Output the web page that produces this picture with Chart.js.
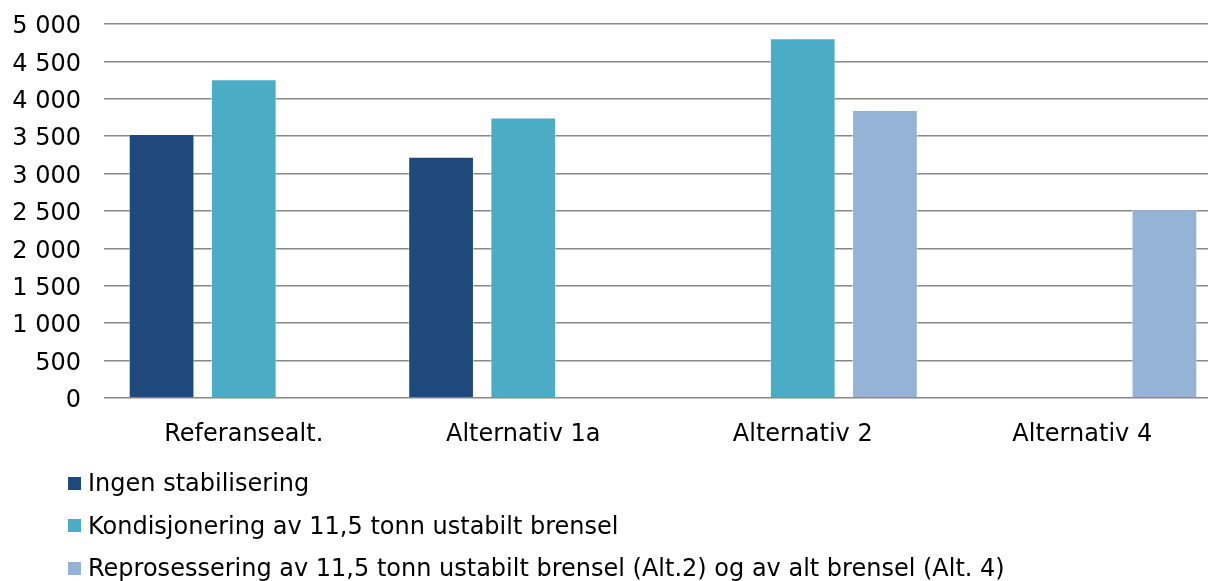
<!DOCTYPE html>
<html>
<head>
<meta charset="utf-8">
<script src="https://cdn.jsdelivr.net/npm/chart.js@4/dist/chart.umd.min.js"></script>
<style>
  body { margin: 0; background: #fff; overflow: hidden; width: 1208px; height: 581px; }
  #wrap { position: absolute; left: 0; top: 0; width: 1222px; height: 581px; }
  #legend { position: absolute; left: 68px; top: 462px; font-family: "DejaVu Sans", Verdana, sans-serif; font-size: 24px; color: #000; }
  #legend .item { display: flex; align-items: center; height: 42.5px; white-space: nowrap; }
  #legend .box { width: 13px; height: 13px; margin-right: 7px; }
</style>
</head>
<body>
<div id="wrap"><canvas id="c"></canvas></div>
<div id="legend"></div>
<script>
const categories = ["Referansealt.", "Alternativ 1a", "Alternativ 2", "Alternativ 4"];
const ingenStab = [3530, 3225, null, null];
const kondisjonering = [4260, 3750, 4810, null];
const reprosessering = [null, null, 3850, 2525];
const seriesNames = [
  "Ingen stabilisering",
  "Kondisjonering av 11,5 tonn ustabilt brensel",
  "Reprosessering av 11,5 tonn ustabilt brensel (Alt.2) og av alt brensel (Alt. 4)",
];
const colors = ["#1f497d", "#4bacc6", "#95b3d7"];

function spaced(v) {
  return String(v).replace(/\B(?=(\d{3})+(?!\d))/g, " ");
}

const font = { family: "'DejaVu Sans', Verdana, sans-serif", size: 24 };

const chart = new Chart(document.getElementById("c"), {
  type: "bar",
  data: {
    labels: categories,
    datasets: [ingenStab, kondisjonering, reprosessering].map((d, i) => ({
      label: seriesNames[i],
      data: d,
      backgroundColor: colors[i],
      borderColor: "rgba(255,255,255,0.5)",
      borderWidth: 1,
      categoryPercentage: 0.882,
      barPercentage: 0.8,
    })),
  },
  options: {
    responsive: true,
    maintainAspectRatio: false,
    animation: false,
    layout: { padding: { top: 24, left: 0, right: 0, bottom: 0 } },
    scales: {
      x: {
        grid: { display: false },
        border: { display: false },
        ticks: { color: "#000", font: font, padding: 14, maxRotation: 0 },
        afterFit: (s) => { s.height = 183; },
      },
      y: {
        min: 0,
        max: 5000,
        grid: { color: "#888", lineWidth: 1.5, drawTicks: false },
        border: { display: false },
        ticks: { stepSize: 500, color: "#000", font: font, padding: 23, labelOffset: 3, callback: spaced },
        afterFit: (s) => {
          s.width = 104;
          // don't let tick padding push the plot area down
          s.paddingTop = 0;
          s.paddingBottom = 0;
        },
      },
    },
    plugins: {
      legend: { display: false },
      tooltip: { enabled: false },
    },
  },
});

// legend below the chart, one row per series
const legend = document.getElementById("legend");
chart.data.datasets.forEach((ds) => {
  const row = document.createElement("div");
  row.className = "item";
  const box = document.createElement("span");
  box.className = "box";
  box.style.background = ds.backgroundColor;
  const txt = document.createElement("span");
  txt.textContent = ds.label;
  row.appendChild(box);
  row.appendChild(txt);
  legend.appendChild(row);
});
</script>
</body>
</html>
